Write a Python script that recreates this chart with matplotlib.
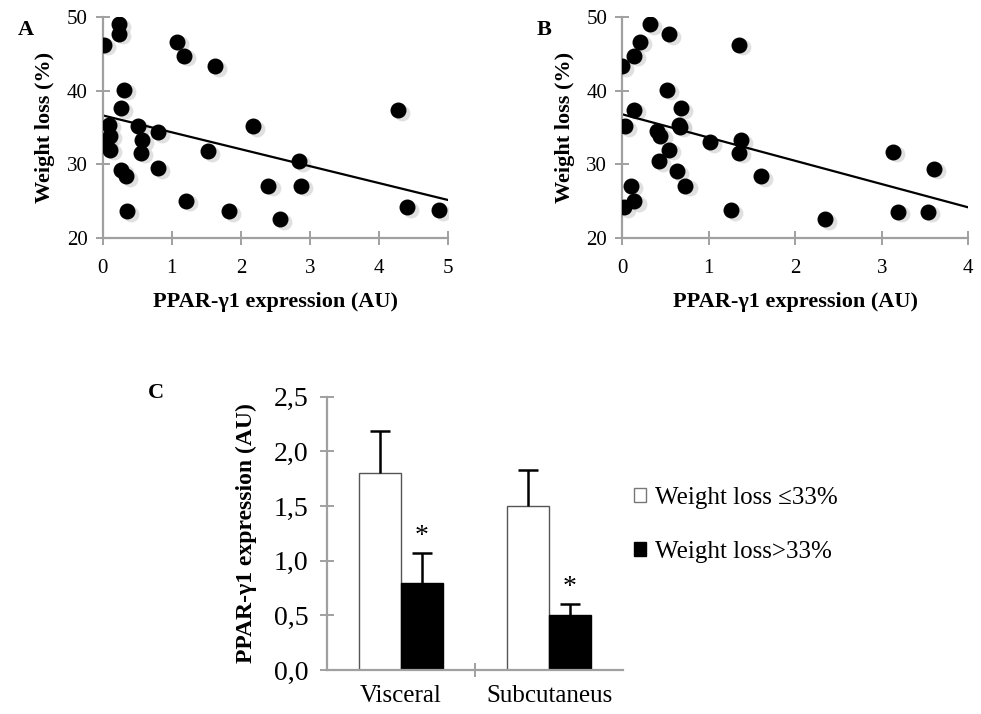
import numpy as np
import matplotlib.pyplot as plt
from matplotlib.patches import Patch

# panel A : visceral PPAR-g1 expression vs weight loss
visc_x = [0.24, 0.23, 0.02, 1.07, 1.18, 1.63, 0.31, 0.26, 0.09, 0.51, 0.80,
          0.10, 0.05, 0.57, 0.10, 0.55, 1.52, 0.27, 0.34, 0.80, 1.21, 0.35,
          1.83, 2.17, 2.84, 2.40, 2.87, 2.56, 4.28, 4.41, 4.87]
visc_y = [49.0, 47.7, 46.2, 46.6, 44.7, 43.3, 40.1, 37.6, 35.4, 35.2, 34.4,
          33.9, 33.1, 33.3, 32.0, 31.6, 31.8, 29.2, 28.4, 29.5, 25.1, 23.7,
          23.7, 35.2, 30.4, 27.1, 27.1, 22.6, 37.3, 24.2, 23.8]

# panel B : subcutaneous
subc_x = [0.32, 0.54, 0.20, 0.13, 0.00, 0.52, 0.13, 0.68, 0.03, 0.66, 0.67,
          0.40, 0.44, 1.01, 0.54, 0.42, 0.63, 0.73, 0.10, 0.14, 0.02, 1.26,
          1.35, 1.37, 1.35, 1.60, 2.34, 3.13, 3.60, 3.19, 3.53]
subc_y = [49.0, 47.6, 46.6, 44.7, 43.3, 40.1, 37.4, 37.6, 35.2, 35.4, 35.1,
          34.5, 33.9, 33.0, 32.0, 30.4, 29.1, 27.1, 27.1, 25.0, 24.2, 23.8,
          46.2, 33.3, 31.6, 28.4, 22.6, 31.7, 29.4, 23.6, 23.6]

# panel C : means and SEM
groups = ['Visceral', 'Subcutaneus']
low_loss = [1.8, 1.5]
low_err = [0.39, 0.33]
high_loss = [0.8, 0.5]
high_err = [0.27, 0.10]
yticks_c = ['0,0', '0,5', '1,0', '1,5', '2,0', '2,5']

plt.rcParams['font.family'] = ['Liberation Serif', 'DejaVu Serif']
grey = '#a0a0a0'

fig = plt.figure(figsize=(9.81, 7.14), dpi=100)


def scatter_panel(rect, x, y, xmax, letter):
    ax = fig.add_axes(rect)
    # faint shadow under the dots
    ax.scatter(np.array(x) + 0.012 * xmax, np.array(y) - 0.35, s=130,
               color='#cccccc', alpha=0.6, zorder=2, linewidths=0)
    ax.scatter(x, y, s=110, color='black', zorder=3)
    k, b = np.polyfit(x, y, 1)
    xs = np.array([0, xmax])
    ax.plot(xs, k * xs + b, color='black', lw=1.6)
    ax.set_xlim(0, xmax)
    ax.set_ylim(20, 50)
    ax.set_xticks(range(xmax + 1))
    ax.set_yticks([20, 30, 40, 50])
    for s in ['top', 'right']:
        ax.spines[s].set_visible(False)
    for s in ['left', 'bottom']:
        ax.spines[s].set_color(grey)
        ax.spines[s].set_linewidth(1.6)
    ax.tick_params(direction='inout', length=10, width=1.4, color=grey,
                   labelsize=15)
    ax.tick_params(axis='x', pad=10)
    ax.tick_params(axis='y', pad=6)
    ax.set_xlabel('PPAR-γ1 expression (AU)', fontsize=16, fontweight='bold',
                  labelpad=10)
    ax.set_ylabel('Weight loss (%)', fontsize=16, fontweight='bold',
                  labelpad=8)
    fig.text(rect[0] - 0.087, 0.958, letter, fontsize=16, fontweight='bold',
             va='center')
    return ax


scatter_panel([0.1047, 0.6663, 0.352, 0.3103], visc_x, visc_y, 5, 'A')
scatter_panel([0.6344, 0.6663, 0.3527, 0.3103], subc_x, subc_y, 4, 'B')

# panel C
ax = fig.add_axes([0.333, 0.0616, 0.3023, 0.3828])
pos = np.arange(len(groups))
w = 0.283
ekw = dict(elinewidth=1.8, capthick=1.8, ecolor='black')
b1 = ax.bar(pos - w / 2, low_loss, w, color='white', edgecolor='#555555',
            linewidth=1.0, yerr=[[0, 0], low_err], capsize=7, error_kw=ekw)
b2 = ax.bar(pos + w / 2, high_loss, w, color='black', edgecolor='black',
            linewidth=1.0, yerr=[[0, 0], high_err], capsize=7, error_kw=ekw)
# keep only the upper cap of each error bar
for bc, vals in [(b1, low_loss), (b2, high_loss)]:
    for cap in bc.errorbar.lines[1]:
        if np.allclose(cap.get_ydata(), vals):
            cap.set_visible(False)
for p, v, e in zip(pos, high_loss, high_err):
    ax.text(p + w / 2, v + e + 0.04, '*', ha='center', va='bottom',
            fontsize=20)
ax.set_xlim(-0.5, 1.5)
ax.set_ylim(0, 2.5)
ax.set_yticks(np.arange(0, 2.51, 0.5))
ax.set_yticklabels(yticks_c)
ax.set_xticks([0.5])
ax.set_xticklabels([''])
for p, g in zip(pos, groups):
    ax.text(p, -0.055, g, ha='center', va='top', fontsize=18,
            transform=ax.get_xaxis_transform())
for s in ['top', 'right']:
    ax.spines[s].set_visible(False)
for s in ['left', 'bottom']:
    ax.spines[s].set_color(grey)
    ax.spines[s].set_linewidth(1.6)
ax.tick_params(axis='y', direction='inout', length=10, width=1.4, color=grey,
               labelsize=20, pad=8)
ax.tick_params(axis='x', direction='inout', length=10, width=1.4, color=grey)
ax.set_ylabel('PPAR-γ1 expression (AU)', fontsize=17, fontweight='bold',
              labelpad=12)
fig.text(0.151, 0.45, 'C', fontsize=16, fontweight='bold', va='center')

handles = [Patch(facecolor='white', edgecolor='#777777', linewidth=1.0),
           Patch(facecolor='black', edgecolor='black')]
fig.legend(handles, ['Weight loss ≤33%', 'Weight loss>33%'],
           loc='center left', bbox_to_anchor=(0.623, 0.265), frameon=False,
           fontsize=18, handlelength=0.5, handleheight=0.5,
           handletextpad=0.35, labelspacing=1.3)

fig.savefig('out.png', dpi=100)
